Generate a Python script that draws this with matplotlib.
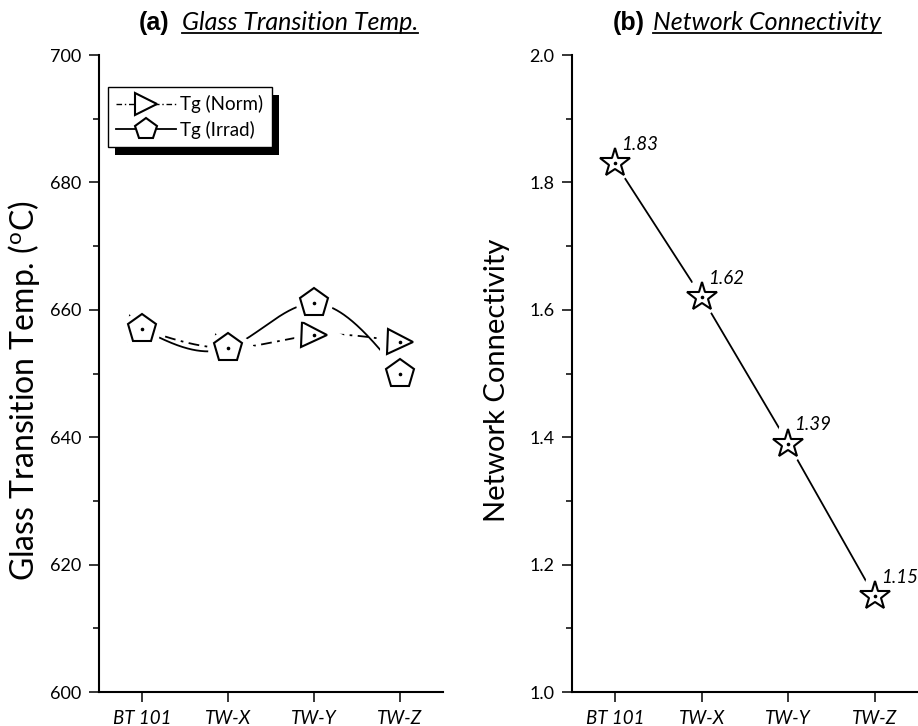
import numpy as np
import matplotlib
matplotlib.use("Agg")
import matplotlib.pyplot as plt
from matplotlib.lines import Line2D
from matplotlib.patches import Rectangle
from matplotlib.ticker import MultipleLocator

# data
samples = ["BT 101", "TW-X", "TW-Y", "TW-Z"]
tg_norm = [657, 654, 656, 655]
tg_irrad = [657, 654, 661, 650]
net_conn = [1.83, 1.62, 1.39, 1.15]

FONT = "Lato"
plt.rcParams['font.family'] = [FONT, 'DejaVu Sans']


def natural_spline(xs, ys, n=300):
    # smooth connector through the points (like Origin's spline line)
    xs = np.asarray(xs, float)
    ys = np.asarray(ys, float)
    h = np.diff(xs)
    k = len(xs)
    A = np.zeros((k, k))
    b = np.zeros(k)
    A[0, 0] = A[-1, -1] = 1
    for i in range(1, k - 1):
        A[i, i - 1] = h[i - 1]
        A[i, i] = 2 * (h[i - 1] + h[i])
        A[i, i + 1] = h[i]
        b[i] = 6 * ((ys[i + 1] - ys[i]) / h[i] - (ys[i] - ys[i - 1]) / h[i - 1])
    M = np.linalg.solve(A, b)
    xx = np.linspace(xs[0], xs[-1], n)
    j = np.clip(np.searchsorted(xs, xx) - 1, 0, k - 2)
    hj = h[j]
    a = xs[j + 1] - xx
    t = xx - xs[j]
    yy = (M[j] * a ** 3 + M[j + 1] * t ** 3) / (6 * hj) \
        + (ys[j] / hj - M[j] * hj / 6) * a + (ys[j + 1] / hj - M[j + 1] * hj / 6) * t
    return xx, yy


def style_axes(ax, minor):
    for s in ['top', 'right']:
        ax.spines[s].set_visible(False)
    for s in ['left', 'bottom']:
        ax.spines[s].set_linewidth(1.5)
    ax.tick_params(axis='both', which='major', direction='out', length=7.5, width=1.1,
                   labelsize=13)
    ax.tick_params(axis='x', which='major', pad=5.5, labelsize=13.5)
    ax.tick_params(axis='y', which='major', pad=5)
    ax.tick_params(axis='y', which='minor', direction='out', length=4, width=1.1)
    ax.tick_params(axis='x', which='minor', bottom=False)
    ax.yaxis.set_minor_locator(MultipleLocator(minor))
    ax.set_xlim(0.5, 4.5)
    ax.set_xticks(x)
    ax.set_xticklabels(samples, style='italic')


def marked(ax, xv, yv, marker, ms, gap=11, z=3):
    # white halo first so the connecting line stops short of the symbol
    ax.plot(xv, yv, ls='none', marker=marker, ms=ms, mfc='white', mec='white',
            mew=gap, zorder=z)
    ax.plot(xv, yv, ls='none', marker=marker, ms=ms, mfc='white', mec='black',
            mew=1.5, zorder=z + 0.5)
    ax.plot(xv, yv, ls='none', marker='o', ms=1.6, color='black', zorder=z + 0.7)


x = np.arange(1, len(samples) + 1)
dashdot = (0, (6, 3, 1.5, 3))

fig = plt.figure(figsize=(9.18, 7.26), dpi=100)
ax1 = fig.add_axes([0.1078, 0.0468, 0.3748, 0.8774])
ax2 = fig.add_axes([0.6231, 0.0468, 0.3769, 0.8774])

# (a) glass transition temperature
xs, ys = natural_spline(x, tg_norm)
ax1.plot(xs, ys, color='black', lw=1.3, ls=dashdot, zorder=2)
xs, ys = natural_spline(x, tg_irrad)
ax1.plot(xs, ys, color='black', lw=1.3, zorder=2)
marked(ax1, x, tg_norm, '>', 18, z=3)
marked(ax1, x, tg_irrad, 'p', 21, gap=9, z=4)

ax1.set_ylim(600, 700)
ax1.set_yticks([600, 620, 640, 660, 680, 700])
style_axes(ax1, 10)
ax1.set_ylabel("Glass Transition Temp. ($\\mathregular{^{o}}$C)", fontsize=23)
ax1.yaxis.set_label_coords(-0.165, 0.473)

h1 = Line2D([], [], color='black', lw=1.0, ls=(0, (4, 2, 1, 2)), marker='>', ms=16,
            mfc='white', mec='black', mew=1.5)
h2 = Line2D([], [], color='black', lw=1.3, marker='p', ms=16,
            mfc='white', mec='black', mew=1.5)
leg = ax1.legend([h1, h2], ["Tg (Norm)", "Tg (Irrad)"], loc='upper left',
                 bbox_to_anchor=(0.026, 0.95), borderaxespad=0, fontsize=13.5,
                 fancybox=False, framealpha=1, edgecolor='black', handlelength=3.2,
                 handletextpad=0.2, labelspacing=0.4, borderpad=0.45)
leg.get_frame().set_linewidth(1.0)
leg.set_zorder(10)

# (b) network connectivity
ax2.plot(x, net_conn, color='black', lw=1.3, zorder=2)
marked(ax2, x, net_conn, '*', 22, gap=13)
for xi, v in zip(x, net_conn):
    ax2.annotate(f"{v:.2f}", (xi, v), xytext=(4.5, 9.5), textcoords='offset points',
                 style='italic', fontsize=13.5, ha='left', va='baseline')
ax2.set_ylim(1.0, 2.0)
ax2.set_yticks([1.0, 1.2, 1.4, 1.6, 1.8, 2.0])
ax2.yaxis.set_major_formatter(plt.FormatStrFormatter('%.1f'))
style_axes(ax2, 0.1)
ax2.set_ylabel("Network Connectivity", fontsize=21)
ax2.yaxis.set_label_coords(-0.178, 0.49)

# panel titles
W, H = 918.0, 726.0
ty = 1 - 30 / H
fig.text(139 / W, ty, "(a)", fontweight='bold', family='Liberation Sans',
         fontsize=18, va='baseline')
t1 = fig.text(182 / W, ty, "Glass Transition Temp.", style='italic', fontsize=18,
              va='baseline')
fig.text(613 / W, ty, "(b)", fontweight='bold', family='Liberation Sans',
         fontsize=18, va='baseline')
t2 = fig.text(653 / W, ty, "Network Connectivity", style='italic', fontsize=18,
              va='baseline')

fig.canvas.draw()
inv = fig.transFigure.inverted()
for t in [t1, t2]:
    bb = t.get_window_extent().transformed(inv)
    fig.add_artist(Line2D([bb.x0, bb.x1], [1 - 33 / H] * 2, color='black', lw=1.3,
                          transform=fig.transFigure))

# black offset shadow behind legend
bb = leg.get_window_extent().transformed(inv)
ax1.add_patch(Rectangle((bb.x0 + 7 / W, bb.y0 - 8 / H), bb.width, bb.height,
                        facecolor='black', edgecolor='none', zorder=9, clip_on=False,
                        transform=fig.transFigure))
fig.savefig("out.png", dpi=100)
